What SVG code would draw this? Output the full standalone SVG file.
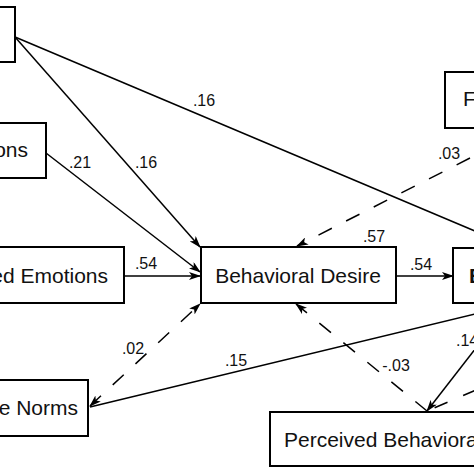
<svg xmlns="http://www.w3.org/2000/svg" width="474" height="474" viewBox="0 0 474 474">
<defs>
<marker id="ah" markerWidth="12" markerHeight="8" refX="11" refY="4" orient="auto" markerUnits="userSpaceOnUse">
<path d="M0,0 L12,4 L0,8 L3,4 z" fill="#000"/>
</marker>
<marker id="ahs" markerWidth="12" markerHeight="8" refX="1" refY="4" orient="auto" markerUnits="userSpaceOnUse">
<path d="M12,0 L0,4 L12,8 L9,4 z" fill="#000"/>
</marker>
</defs>
<style>
.box{fill:#fff;stroke:#000;stroke-width:2}
.t{font-family:"Liberation Sans",Arial,sans-serif;font-size:21px;fill:#111}
.l{font-family:"Liberation Sans",Arial,sans-serif;font-size:16px;fill:#111}
.c{fill:none;stroke:#000;stroke-width:1.5}
.d{stroke-dasharray:15 16}
</style>
<rect width="474" height="474" fill="#fff"/>
<g id="connectors">
<line class="c" x1="15" y1="37" x2="520" y2="250"/>
<line class="c" x1="15" y1="37" x2="200" y2="247" marker-end="url(#ah)"/>
<line class="c" x1="46" y1="153" x2="200" y2="272" marker-end="url(#ah)"/>
<line class="c" x1="124" y1="276" x2="200" y2="276" marker-end="url(#ah)"/>
<line class="c d" x1="90" y1="406" x2="200" y2="304" marker-start="url(#ahs)" marker-end="url(#ah)"/>
<line class="c" x1="500" y1="308" x2="90" y2="407"/>
<line class="c d" x1="470" y1="158" x2="297" y2="246" marker-end="url(#ah)"/>
<line class="c" x1="396" y1="276" x2="453" y2="276" marker-end="url(#ah)"/>
<line class="c d" x1="427" y1="411" x2="296" y2="304" marker-end="url(#ah)"/>
<line class="c" x1="490" y1="330" x2="427" y2="411" marker-end="url(#ah)"/>
<line class="c d" x1="476" y1="390" x2="427" y2="411" style="stroke-dasharray:14 17"/>
<text class="l" x="204" y="106" text-anchor="middle">.16</text>
<text class="l" x="146" y="168" text-anchor="middle">.16</text>
<text class="l" x="80" y="168" text-anchor="middle">.21</text>
<text class="l" x="146" y="269" text-anchor="middle">.54</text>
<text class="l" x="133" y="354" text-anchor="middle">.02</text>
<text class="l" x="236" y="366" text-anchor="middle">.15</text>
<text class="l" x="374" y="242" text-anchor="middle">.57</text>
<text class="l" x="421" y="270" text-anchor="middle">.54</text>
<text class="l" x="449" y="159" text-anchor="middle">.03</text>
<text class="l" x="396" y="371" text-anchor="middle">-.03</text>
<text class="l" x="456" y="346">.14</text>
</g>
<g id="node-attitudes">
<rect class="box" x="-60" y="7" width="75" height="55"/>
</g>
<g id="node-positive-emotions">
<rect class="box" x="-60" y="123" width="106" height="55"/>
<text class="t" x="28" y="157" text-anchor="end">ons</text>
</g>
<g id="node-negative-emotions">
<rect class="box" x="-60" y="247" width="184" height="56"/>
<text class="t" x="108" y="283" text-anchor="end">ed Emotions</text>
</g>
<g id="node-subjective-norms">
<rect class="box" x="-60" y="380" width="148" height="56"/>
<text class="t" x="78" y="415" text-anchor="end">e Norms</text>
</g>
<g id="node-behavioral-desire">
<rect class="box" x="201" y="247" width="195" height="56"/>
<text class="t" x="298" y="283" text-anchor="middle">Behavioral Desire</text>
</g>
<g id="node-intention">
<rect class="box" x="453" y="248" width="80" height="55"/>
<text class="t" x="469" y="283" font-weight="bold">B</text>
</g>
<g id="node-frequency">
<rect class="box" x="445" y="72" width="80" height="56"/>
<text class="t" x="463" y="106">F</text>
</g>
<g id="node-pbc">
<rect class="box" x="270" y="412" width="260" height="54"/>
<text class="t" x="284" y="447">Perceived Behaviora</text>
</g>
</svg>
